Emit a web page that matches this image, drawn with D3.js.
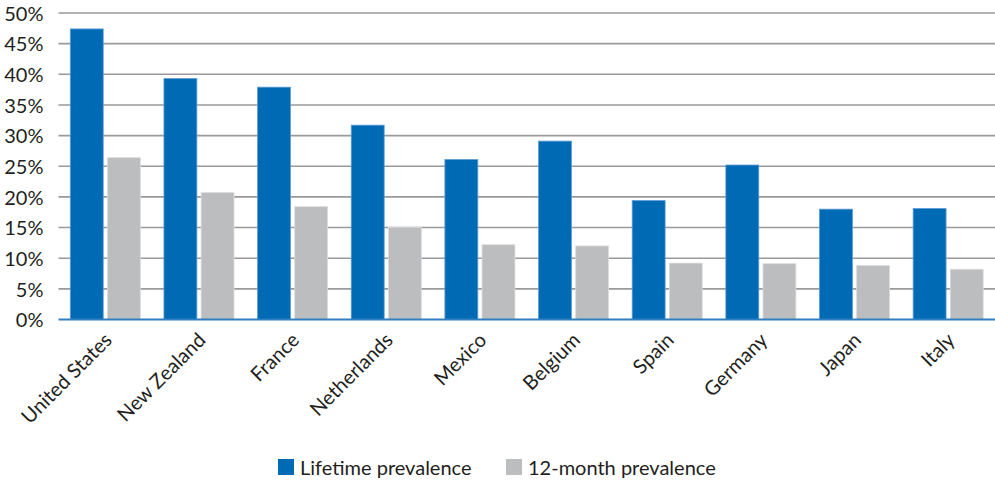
<!DOCTYPE html>
<html>
<head>
<meta charset="utf-8">
<script src="https://cdn.jsdelivr.net/npm/d3@7"></script>
<style>
  html, body { margin: 0; padding: 0; background: #fff; }
  svg { display: block; }
  text { font-family: Lato, "Open Sans", sans-serif; fill: #231f20; }
</style>
</head>
<body>
<svg id="chart" width="995" height="481"></svg>
<script>
// Prevalence by country (%)
const countries = ["United States", "New Zealand", "France", "Netherlands", "Mexico",
                   "Belgium", "Spain", "Germany", "Japan", "Italy"];
const lifetime = [47.4, 39.3, 37.9, 31.7, 26.1, 29.1, 19.4, 25.2, 18.0, 18.1];
const twelveMonth = [26.4, 20.7, 18.4, 15.0, 12.2, 12.0, 9.2, 9.1, 8.8, 8.2];
const yTicks = [0, 5, 10, 15, 20, 25, 30, 35, 40, 45, 50];
const seriesNames = ["Lifetime prevalence", "12-month prevalence"];
const seriesColors = ["#006ab5", "#bcbdbf"];
const seriesStrokes = ["#5b9bd5", "#dcdcdd"];

const fontFamily = "Lato, \"Open Sans\", sans-serif";
const fontSize = 20;

const svg = d3.select("#chart");
const plotLeft = 58.5, plotRight = 995, plotTop = 13, plotBottom = 319.5;

const x = d3.scaleBand().domain(countries).range([plotLeft, plotRight]).paddingInner(0).paddingOuter(0);
const inner = d3.scaleBand().domain([0, 1]).range([11.8, x.bandwidth() - 11.8]).paddingInner(0.114);
const y = d3.scaleLinear().domain([0, 50]).range([plotBottom, plotTop]);

// horizontal gridlines
svg.append("g")
  .selectAll("line")
  .data(yTicks.filter(d => d > 0))
  .join("line")
  .attr("x1", plotLeft).attr("x2", plotRight)
  .attr("y1", d => y(d)).attr("y2", d => y(d))
  .attr("stroke", "#9a9a9a").attr("stroke-width", 1.6);

// y axis labels
const yAxis = d3.axisLeft(y).tickValues(yTicks).tickSize(0).tickPadding(0)
  .tickFormat(d => d + "%");
const gy = svg.append("g").attr("transform", `translate(${plotLeft - 15},0)`).call(yAxis);
gy.select(".domain").remove();
gy.selectAll("text").attr("font-size", fontSize).attr("fill", "#231f20")
  .attr("font-family", fontFamily).attr("dy", "0.36em");

// bars
const rows = countries.map((c, i) => ({ c, v: [lifetime[i], twelveMonth[i]] }));
const groups = svg.append("g").selectAll("g")
  .data(rows).join("g")
  .attr("transform", d => `translate(${x(d.c)},0)`);
groups.selectAll("rect")
  .data(d => d.v.map((v, k) => ({ v, k })))
  .join("rect")
  .attr("x", d => inner(d.k))
  .attr("width", inner.bandwidth())
  .attr("y", d => y(d.v))
  .attr("height", d => y(0) - y(d.v))
  .attr("fill", d => seriesColors[d.k])
  .attr("stroke", d => seriesStrokes[d.k])
  .attr("stroke-width", 0.8);

// baseline
svg.append("line")
  .attr("x1", plotLeft).attr("x2", plotRight)
  .attr("y1", y(0)).attr("y2", y(0))
  .attr("stroke", "#2f7fc1").attr("stroke-width", 2.2);

// x axis labels, rotated
svg.append("g").selectAll("text")
  .data(countries).join("text")
  .attr("transform", d => `translate(${x(d) + x.bandwidth() / 2 - 2},${plotBottom + 12}) rotate(-45)`)
  .attr("text-anchor", "end")
  .attr("dy", "0.7em")
  .attr("font-size", fontSize)
  .text(d => d);

// legend
const legendItems = [{ x: 278, i: 0 }, { x: 506, i: 1 }];
const lg = svg.append("g").selectAll("g").data(legendItems).join("g")
  .attr("transform", d => `translate(${d.x},459)`);
lg.append("rect").attr("width", 16).attr("height", 16)
  .attr("fill", d => seriesColors[d.i]);
lg.append("text").attr("x", 22).attr("y", 16)
  .attr("font-size", fontSize)
  .text(d => seriesNames[d.i]);
</script>
</body>
</html>
